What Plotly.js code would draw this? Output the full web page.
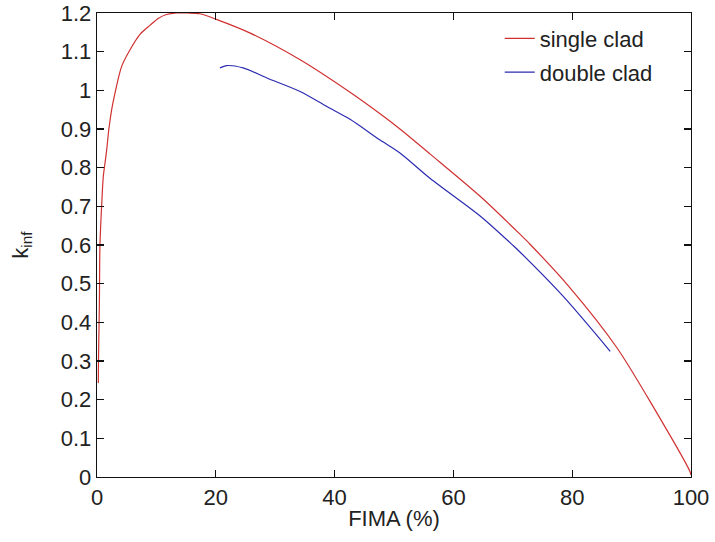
<!DOCTYPE html>
<html>
<head>
<meta charset="utf-8">
<script src="https://cdn.plot.ly/plotly-3.0.1.min.js"></script>
<style>html,body{margin:0;padding:0;background:#fff;}#chart{width:715px;height:542px;}</style>
</head>
<body>
<div id="chart"></div>
<script>
// single clad
const singleX = [0.22, 0.25, 0.3, 0.4, 0.5, 0.79, 1.06, 1.35, 1.63, 2.0, 2.47, 3.03, 4.15, 5.56, 7.24, 8.9, 10.3, 11.7, 13.4, 15.3, 17.3, 20.2, 25.8, 34.2, 42.6, 47.6, 51.0, 56.1, 64.5, 71.2, 72.9, 79.6, 87.5, 93.7, 99.8, 100];
const singleY = [0.243, 0.30, 0.35, 0.45, 0.60, 0.704, 0.777, 0.812, 0.846, 0.90, 0.950, 0.993, 1.062, 1.105, 1.145, 1.168, 1.186, 1.196, 1.2, 1.2, 1.198, 1.183, 1.148, 1.079, 0.995, 0.940, 0.900, 0.835, 0.726, 0.628, 0.602, 0.49, 0.335, 0.18, 0.015, 0.005];
// double clad
const doubleX = [20.7, 21.8, 24.6, 28.6, 34.2, 38.7, 42.6, 47.6, 51.0, 56.1, 64.5, 70.1, 71.2, 78.5, 86.4];
const doubleY = [1.058, 1.064, 1.058, 1.032, 0.997, 0.958, 0.925, 0.872, 0.838, 0.772, 0.675, 0.598, 0.582, 0.467, 0.325];

const xTicks = [0, 20, 40, 60, 80, 100];
const yTicks = [0, 0.1, 0.2, 0.3, 0.4, 0.5, 0.6, 0.7, 0.8, 0.9, 1, 1.1, 1.2];
const yTickText = ['0', '0.1', '0.2', '0.3', '0.4', '0.5', '0.6', '0.7', '0.8', '0.9', '1', '1.1', '1.2'];

const font = {family: 'Liberation Sans, Arial, sans-serif', size: 22, color: '#222'};

const traces = [
  {x: singleX, y: singleY, type: 'scatter', mode: 'lines', name: 'single clad', legendgroup: 'a',
   line: {color: '#d03030', width: 1.2, shape: 'spline', smoothing: 0.8}},
  {x: doubleX, y: doubleY, type: 'scatter', mode: 'lines', name: 'double clad', legendgroup: 'b',
   line: {color: '#2b2bb0', width: 1.2, shape: 'spline', smoothing: 0.8}}
];

const axisCommon = {
  showgrid: false, zeroline: false, showline: true, linecolor: '#111', linewidth: 1.3,
  mirror: 'ticks', ticks: 'inside', ticklen: 7, tickwidth: 1.2, tickcolor: '#111',
  tickfont: font
};

const layout = {
  width: 715, height: 542,
  margin: {l: 97, r: 24, t: 13, b: 65},
  paper_bgcolor: '#fff', plot_bgcolor: '#fff',
  font: font,
  showlegend: true,
  legend: {x: 0.678, y: 0.99, xanchor: 'left', yanchor: 'top', bgcolor: 'rgba(0,0,0,0)',
           borderwidth: 0, font: font, tracegroupgap: 2},
  xaxis: Object.assign({}, axisCommon, {
    range: [0, 100], tickvals: xTicks, ticktext: xTicks.map(String),
    title: {text: 'FIMA (%)', font: font, standoff: 2}
  }),
  yaxis: Object.assign({}, axisCommon, {
    range: [0, 1.2], tickvals: yTicks, ticktext: yTickText,
    title: {text: 'k<sub>inf</sub>', font: font, standoff: 26}
  })
};

Plotly.newPlot('chart', traces, layout, {displayModeBar: false, staticPlot: true});
</script>
</body>
</html>
